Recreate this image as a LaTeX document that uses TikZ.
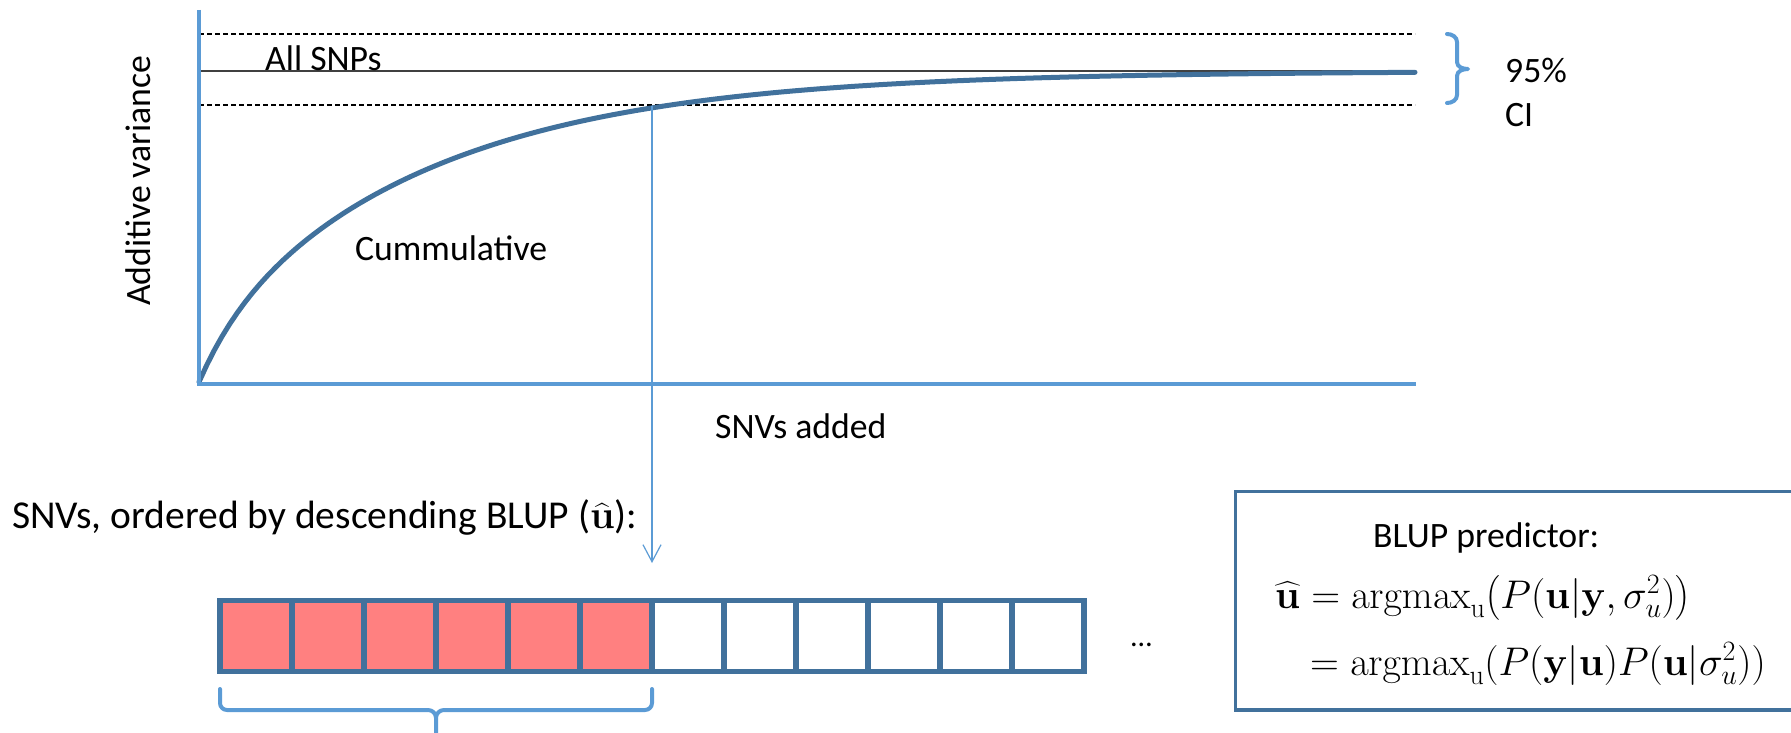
\RequirePackage{fix-cm}
\documentclass[tikz,border=0pt]{standalone}
\usepackage{amsmath}
\usepackage[no-math]{fontspec}
\setmainfont{Carlito}
\usetikzlibrary{arrows.meta}
\definecolor{axisblue}{RGB}{91,155,213}
\definecolor{darkblue}{RGB}{65,113,156}
\definecolor{cellred}{RGB}{255,128,128}
\definecolor{refgray}{RGB}{64,64,64}
\begin{document}
\begin{tikzpicture}[x=1pt,y=-1pt,
  lbl/.style={font=\fontsize{35.7}{40}\selectfont, inner sep=0pt, anchor=base west},
  biglbl/.style={font=\fontsize{39.5}{44}\selectfont, inner sep=0pt, anchor=base west},
  eqlbl/.style={font=\fontsize{40}{45}\selectfont, inner sep=0pt, anchor=base west},
  cellbox/.style={draw=darkblue, line width=5.5pt, minimum width=72pt, minimum height=71pt, inner sep=0pt, outer sep=0pt},
  bracestyle/.style={draw=axisblue, line width=4pt, line cap=round, line join=round},
  dashline/.style={draw=black, line width=1.3pt, dash pattern=on 5pt off 3pt},
]
\useasboundingbox (0,0) rectangle (1791,733);

% reference lines
\draw[dashline] (199,34) -- (1415,34);
\draw[dashline] (199,105) -- (1415,105);
\draw[refgray, line width=1.8pt] (199,71) -- (1415,71);

% cumulative curve
\draw[darkblue, line width=5pt, line cap=round] plot[domain=0:1216, samples=160]
  ({199+\x}, {71+311*(0.15*exp(-\x/40)+0.85*exp(-\x/230))});

% axes
\draw[axisblue, line width=4.5pt] (199,10) -- (199,384) -- (1416,384);

% arrow from curve to the cells
\coordinate (cut) at (652,106);
\coordinate (tip) at (652,563);
\draw[axisblue, line width=1.2pt, -{Straight Barb[length=17pt,width=18pt]}] (cut) -- (tip);

% CI brace
\draw[bracestyle] (1447,34) to[out=0,in=90] (1457,42) -- (1457,62) to[out=-90,in=180] (1468,69)
  to[out=180,in=90] (1457,76) -- (1457,95) to[out=-90,in=0] (1447,103);

% texts of the plot
\node[lbl] (allsnps) at (265,71) {All SNPs};
\node[lbl] (cumul) at (355,260) {Cummulative};
\node[lbl] (snvsadded) at (715,438) {SNVs added};
\node[lbl, rotate=90, anchor=base] (ylabel) at (150,181) {Additive variance};
\node[lbl] (ci1) at (1505,83) {95\%};
\node[lbl] (ci2) at (1505,127) {CI};

% ordered SNVs
\node[biglbl] (order) at (12,528) {SNVs, ordered by descending BLUP ($\widehat{\mathbf{u}}$):};

\foreach \i in {6,...,11} {
  \node[cellbox, fill=white] (c\i) at (256+72*\i,636) {};
}
\foreach \i in {0,...,5} {
  \node[cellbox, fill=cellred] (c\i) at (256+72*\i,636) {};
}
\node[lbl, font=\fontsize{30}{34}\selectfont] (dots) at (1131,646) {…};

% brace under selected cells
\draw[bracestyle] (220,689) -- (220,703) to[out=-90,in=180] (227,710) -- (428,710)
  to[out=0,in=90] (436,718) -- (436,745);
\draw[bracestyle] (652,689) -- (652,703) to[out=-90,in=0] (645,710) -- (444,710)
  to[out=180,in=90] (436,718);

% BLUP box
\node[draw=darkblue, line width=3.5pt, anchor=north west, minimum width=600pt, minimum height=218.5pt, inner sep=0pt] (blupbox) at (1233.75,489.75) {};
\node[lbl] (bp) at (1373,547) {BLUP predictor:};
\node[eqlbl] (eq1) at (1275,608) {$\widehat{\mathbf{u}} = \mathrm{argmax}_{\mathrm{u}}\bigl(P(\mathbf{u}|\mathbf{y},\sigma_u^2)\bigr)$};
\node[eqlbl] (eq2) at (1310,675) {$= \mathrm{argmax}_{\mathrm{u}}(P(\mathbf{y}|\mathbf{u})P(\mathbf{u}|\sigma_u^2))$};
\end{tikzpicture}
\end{document}
